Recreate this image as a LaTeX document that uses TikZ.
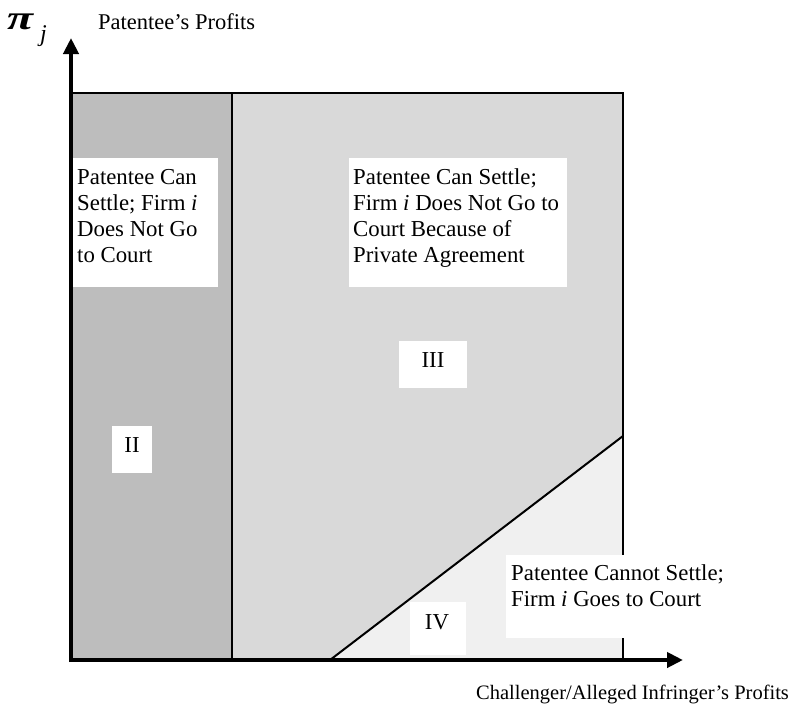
\documentclass[tikz,border=0pt]{standalone}
\usepackage{fontspec}
\setmainfont{Liberation Serif}
\usetikzlibrary{arrows.meta}

\begin{document}
\begin{tikzpicture}[x=1pt,y=-1pt,
  txt/.style={font=\fontsize{22.8}{26}\selectfont, inner sep=0pt, align=left, anchor=base west},
  numeral/.style={font=\fontsize{22.8}{26}\selectfont, inner sep=0pt, anchor=center},
  whitebox/.style={fill=white, draw=none, inner sep=0pt, anchor=north west},
  axisline/.style={line width=4pt, -{Triangle[length=16pt,width=15pt]}},
  border/.style={line width=2pt},
  zoneII/.style={fill=black!26},
  zoneIII/.style={fill=black!15},
  zoneIV/.style={fill=black!6}]
\useasboundingbox (0,0) rectangle (790,707);

% corner points of the plotted square
\coordinate (O)  at (71,660);
\coordinate (TL) at (71,93);
\coordinate (TR) at (623,93);
\coordinate (BR) at (623,660);
\coordinate (DT) at (232,93);
\coordinate (DB) at (232,660);
\coordinate (LB) at (330,660);
\coordinate (LT) at (623,436);

% shaded regions
\fill[zoneII]  (TL) rectangle (DB);
\fill[zoneIII] (DT) -- (TR) -- (LT) -- (LB) -- (DB) -- cycle;
\fill[zoneIV]  (LB) -- (LT) -- (BR) -- cycle;

% region boundaries
\draw[border] (TL) -- (TR) -- (BR);
\draw[border] (DT) -- (DB);
\draw[border] (LB) -- (LT);

% white label boxes
\node[whitebox, minimum width=146pt, minimum height=129pt] (boxA) at (72,158) {};
\node[whitebox, minimum width=218pt, minimum height=129pt] (boxB) at (349,158) {};
\node[whitebox, minimum width=234pt, minimum height=83pt]  (boxC) at (506,555) {};
\node[whitebox, minimum width=40pt,  minimum height=47pt]  (boxII)  at (112,426) {};
\node[whitebox, minimum width=68pt,  minimum height=47pt]  (boxIII) at (399,341) {};
\node[whitebox, minimum width=56pt,  minimum height=53pt]  (boxIV)  at (410,602) {};

% region descriptions (base anchor sits on the last line)
\node[txt] (txtA) at (77,262) {Patentee Can\\Settle; Firm \textit{i}\\Does Not Go\\to Court};
\node[txt] (txtB) at (353,262) {Patentee Can Settle;\\Firm \textit{i} Does Not Go to\\Court Because of\\Private Agreement};
\node[txt] (txtC) at (511,606) {Patentee Cannot Settle;\\Firm \textit{i} Goes to Court};

% region numerals
\node[numeral] (II)  at (132,445) {II};
\node[numeral] (III) at (433,360) {III};
\node[numeral] (IV)  at (437,622) {IV};

% axes
\coordinate (ytip) at (71,38);
\coordinate (xtip) at (683,660);
\coordinate (ystart) at (71,662);
\coordinate (xstart) at (69,660);
\draw[axisline] (ystart) -- (ytip);
\draw[axisline] (xstart) -- (xtip);

% axis labels
\node[inner sep=0pt, anchor=base west, font=\fontsize{34}{34}\selectfont\bfseries\itshape] (pi) at (7,29) {\scalebox{1.4}[1]{π}};
\node[inner sep=0pt, anchor=base west, font=\fontsize{24}{24}\selectfont\itshape] (jsub) at (40,41) {j};
\node[inner sep=0pt, anchor=base west, font=\fontsize{22.5}{24}\selectfont] (ylabel) at (98,29) {Patentee’s Profits};
\node[inner sep=0pt, anchor=base west, font=\fontsize{20.5}{22}\selectfont] (xlabel) at (476,699) {Challenger/Alleged Infringer’s Profits};
\end{tikzpicture}
\end{document}
